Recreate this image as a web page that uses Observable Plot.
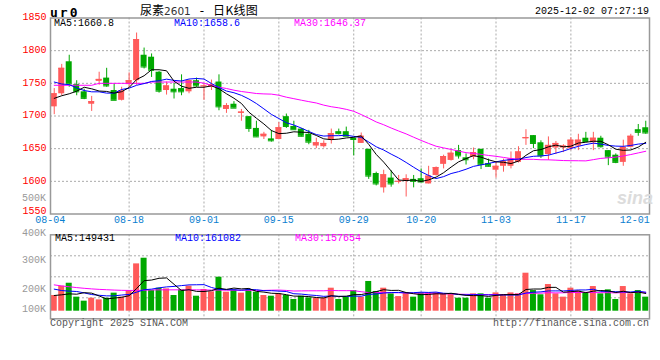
<!DOCTYPE html>
<html><head><meta charset="utf-8">
<script src="https://cdn.jsdelivr.net/npm/d3@7"></script>
<script src="https://cdn.jsdelivr.net/npm/@observablehq/plot@0.6"></script>
<style>
body{margin:0;background:#fff}
#root{position:relative;width:660px;height:360px;overflow:hidden;background:#fff;font-family:"Liberation Mono",monospace;font-size:10px}
.t{position:absolute;white-space:nowrap;line-height:10px}
.w{position:absolute;left:0}
</style></head><body><div id="root"></div>
<script>
// ---- data ----
const dateLabels = ["08-04","08-18","09-01","09-15","09-29","10-20","11-03","11-17","12-01"];
const dateIdx = [0,10,20,30,40,49,59,69,79];
const open  = [1714,1734,1783,1748,1737,1718,1753,1758,1739,1724,1748,1754,1793,1790,1767,1739,1741,1742,1737,1754,1745,1744,1752,1710,1718,1704,1699,1681,1668,1665,1664,1699,1684,1680,1672,1654,1653,1663,1676,1676,1666,1658,1649,1612,1590,1605,1599,1600,1603,1604,1596,1609,1626,1632,1647,1636,1637,1649,1627,1617,1623,1623,1629,1665,1670,1659,1641,1651,1651,1650,1654,1666,1659,1666,1647,1640,1629,1652,1679,1682];
const high  = [1742,1779,1793,1754,1741,1730,1767,1773,1749,1744,1766,1827,1804,1795,1768,1752,1750,1763,1755,1758,1749,1755,1763,1719,1722,1710,1699,1692,1675,1678,1690,1703,1692,1681,1678,1666,1662,1680,1680,1683,1666,1674,1649,1614,1617,1616,1609,1610,1609,1619,1623,1622,1640,1647,1655,1642,1651,1649,1634,1629,1634,1645,1653,1679,1670,1662,1668,1661,1656,1667,1672,1675,1675,1669,1647,1642,1663,1672,1687,1692];
const low   = [1702,1731,1744,1731,1725,1707,1747,1744,1724,1723,1744,1747,1772,1759,1735,1732,1726,1731,1734,1744,1724,1739,1708,1704,1712,1692,1675,1668,1664,1660,1664,1681,1679,1668,1656,1650,1651,1657,1671,1669,1639,1658,1603,1593,1582,1591,1596,1576,1590,1599,1596,1608,1619,1631,1634,1625,1633,1618,1622,1605,1614,1619,1628,1655,1650,1635,1632,1641,1644,1647,1647,1660,1647,1651,1624,1627,1623,1651,1669,1672];
const close = [1734,1773,1749,1737,1727,1722,1756,1746,1724,1738,1754,1817,1775,1770,1738,1746,1737,1737,1754,1746,1746,1748,1714,1716,1712,1706,1681,1668,1672,1662,1682,1684,1679,1669,1660,1659,1658,1673,1673,1669,1664,1669,1608,1596,1610,1596,1600,1604,1600,1599,1608,1621,1638,1643,1639,1633,1644,1626,1623,1623,1630,1634,1645,1667,1658,1639,1655,1658,1654,1663,1663,1661,1666,1653,1637,1629,1652,1669,1675,1674];
const ma5  = [1727,1731,1734,1738,1744.0,1741.6,1738.2,1737.6,1735.0,1737.2,1743.6,1755.8,1761.6,1770.8,1770.8,1769.2,1753.2,1745.6,1742.4,1744.0,1744.0,1746.2,1741.6,1734.0,1727.2,1719.2,1705.8,1696.6,1687.8,1677.8,1673.0,1673.6,1675.8,1675.2,1674.8,1670.2,1665.0,1663.8,1664.6,1666.4,1667.4,1669.6,1656.6,1641.2,1629.4,1615.8,1602.0,1601.2,1602.0,1599.8,1602.2,1606.4,1613.2,1621.8,1629.8,1634.8,1639.4,1637.0,1633.0,1629.8,1629.2,1627.2,1631.0,1639.8,1646.8,1648.6,1652.8,1655.4,1652.8,1653.8,1658.6,1659.8,1661.4,1661.2,1656.0,1649.2,1647.4,1648.0,1652.4,1659.8];
const ma10 = [1752,1749,1748,1743,1739,1737,1737,1735,1735,1740.6,1742.6,1747.0,1749.6,1752.9,1754.0,1756.4,1754.5,1753.6,1756.6,1757.4,1756.6,1749.7,1743.6,1738.2,1735.6,1731.6,1726.0,1719.1,1710.9,1702.5,1696.1,1689.7,1686.2,1681.5,1676.3,1671.6,1669.3,1669.8,1669.9,1670.6,1668.8,1667.3,1660.2,1652.9,1647.9,1641.6,1635.8,1628.9,1621.6,1614.6,1609.0,1604.2,1607.2,1611.9,1614.8,1618.5,1622.9,1625.1,1627.4,1629.8,1632.0,1633.3,1634.0,1636.4,1638.3,1638.9,1640.0,1643.2,1646.3,1650.3,1653.6,1656.3,1658.4,1657.0,1654.9,1653.9,1653.6,1654.9,1657.0,1658.1];
const ma30 = [1747,1747,1747,1747,1747,1747,1750,1750,1750,1750,1750,1750,1750,1752,1752,1752,1752,1752,1752,1752,1750.2,1746.7,1744.1,1742.1,1739.5,1737.5,1736.0,1734.4,1733.8,1733.5,1731.8,1728.8,1726.5,1724.2,1722.0,1719.9,1716.6,1714.2,1712.5,1710.2,1707.2,1702.2,1696.7,1690.9,1686.6,1681.6,1677.0,1672.6,1667.5,1662.6,1658.0,1653.7,1651.2,1648.8,1646.3,1643.9,1642.7,1641.3,1639.6,1638.3,1636.6,1634.9,1633.8,1633.7,1633.7,1633.0,1632.9,1632.4,1631.8,1631.6,1631.5,1631.3,1633.2,1635.1,1636.0,1637.1,1638.8,1641.0,1643.5,1646.0];
const volumeK = [133,212,237,119,85,110,96,110,153,119,175,401,449,175,195,189,133,181,212,127,184,164,288,161,181,153,184,161,133,127,147,133,99,127,113,110,110,195,99,119,175,119,252,167,195,147,124,155,119,155,155,155,147,147,110,110,147,147,110,155,139,155,147,322,175,139,226,147,119,195,170,155,209,147,181,99,209,147,175,119];
const volMa5K  = [133,139,147,144,157,153,129,104,111,118,131,192,259,264,279,282,228,175,182,168,167,174,195,185,196,189,193,168,162,152,150,140,128,127,124,116,112,131,125,127,140,141,153,166,182,176,177,158,148,140,142,148,146,152,143,134,132,132,125,134,140,141,141,184,188,188,202,202,161,165,171,157,170,175,172,158,169,157,162,150];
const volMa10K = [187,175,170,167,155,141,135,130,130,137,142,161,182,187,198,206,210,217,223,224,225,201,185,183,182,178,184,182,174,174,170,167,148,145,138,133,126,129,126,125,128,127,142,146,154,158,159,155,157,161,159,162,152,150,141,138,140,139,138,138,137,137,137,154,161,164,172,172,172,176,180,180,186,168,169,165,163,163,169,161];
const volMa30K = [223,214,207,200,194,189,185,182,179,177,176,176,178,180,181,181,181,181,181,181,180,179,179,178,178,177,177,176,176,178,179,176,171,172,173,173,173,176,174,174,174,165,158,158,158,157,156,155,152,153,152,152,147,147,144,143,142,141,141,141,141,142,144,150,152,153,157,155,156,159,158,160,158,157,157,155,158,158,160,159];
const priceTicks = [1850,1800,1750,1700,1650,1600,1550];
const volTickLabels = ["500K","400K","300K","200K","100K"];
const header = {code:"ur0", name:"尿素", contract:"2601", dash:"-", kind:"日K线图", time:"2025-12-02 07:27:19"};
const priceMaLabels = ["MA5:1660.8","MA10:1658.6","MA30:1646.37"];
const volMaLabels = ["MA5:149431","MA10:161082","MA30:157654"];
const footer = ["Copyright 2025 SINA.COM","http://finance.sina.com.cn"];

// ---- build ----
const UP = "#ff5a5a", DOWN = "#00a800";
const candles = open.map((o,i)=>({i, o, h:high[i], l:low[i], c:close[i], v:volumeK[i]*1000, col: close[i] >= o ? UP : DOWN}));
const rows = (arr, k=1) => arr.map((v,i)=>({i, v:v*k}));
const W = 0.4;
const font = {fontFamily:"Liberation Mono, monospace", fontSize:"10px", background:"transparent", overflow:"visible"};
const grid = {stroke:"#aaa", strokeDasharray:"2,2", strokeWidth:1};
const xColor = "#0a80d0";
const lastK = dateLabels.length - 1;
const yAxisStyle = {tickSize:0, tickPadding:4, color:"#ff0000", fontSize:10, tickFormat:d=>String(d)};
const DY = 9;

const price = Plot.plot({
  width:660, height:230, marginLeft:50, marginRight:11, marginTop:17.5, marginBottom:16.5,
  x:{domain:[-0.5,79.5], axis:null},
  y:{domain:[1550,1850]},
  color:{type:"identity"},
  style:font,
  marks:[
    Plot.ruleY(priceTicks.slice(1,-1), grid),
    Plot.ruleX(dateIdx.slice(1,-1), grid),
    Plot.ruleX(candles, {x:"i", y1:"l", y2:"h", stroke:"col", strokeWidth:1}),
    Plot.rect(candles, {x1:d=>d.i-W, x2:d=>d.i+W, y1:"o", y2:"c", fill:"col"}),
    Plot.ruleY(candles, {x1:d=>d.i-W, x2:d=>d.i+W, y:"c", stroke:"col", strokeWidth:1}),
    Plot.line(rows(ma30), {x:"i", y:"v", stroke:"#ff00ff", strokeWidth:1}),
    Plot.line(rows(ma10), {x:"i", y:"v", stroke:"#0000ff", strokeWidth:1}),
    Plot.line(rows(ma5), {x:"i", y:"v", stroke:"#000000", strokeWidth:1}),
    Plot.axisY(priceTicks.slice(0,-1), {...yAxisStyle, dy:-1}),
    Plot.axisY(priceTicks.slice(-1), {...yAxisStyle, dy:-3.6}),
    Plot.text(dateIdx.slice(0,1), {x:d=>d, text:()=>dateLabels[0], frameAnchor:"bottom", dy:DY, dx:-4, fill:xColor}),
    Plot.text(dateIdx.slice(1,-1), {x:d=>d, text:(d,i)=>dateLabels[i+1], frameAnchor:"bottom", dy:DY, fill:xColor}),
    Plot.text(dateIdx.slice(-1), {x:d=>d, text:()=>dateLabels[lastK], frameAnchor:"bottom", dy:DY, dx:4, textAnchor:"end", fill:xColor}),
    Plot.frame({stroke:"#999", strokeWidth:1.5})
  ]
});

const vDomain = [0,600000], vRange = [80.7, 80.7-0.118*600];
const vy = Plot.scale({y:{domain:vDomain, range:vRange}});
const vGrid = [0.25,0.5,0.75].map(f => vy.invert(4.3 + f*84));
const vol = Plot.plot({
  width:660, height:100, marginLeft:50, marginRight:11, marginTop:4.3, marginBottom:11.7,
  x:{domain:[-0.5,79.5], axis:null},
  y:{domain:vDomain, range:vRange, axis:null},
  color:{type:"identity"},
  style:font,
  marks:[
    Plot.ruleY(vGrid, grid),
    Plot.ruleX(dateIdx.slice(1,-1), grid),
    Plot.rect(candles, {x1:d=>d.i-W, x2:d=>d.i+W, y1:0, y2:"v", fill:"col"}),
    Plot.line(rows(volMa30K,1000), {x:"i", y:"v", stroke:"#ff00ff", strokeWidth:1}),
    Plot.line(rows(volMa10K,1000), {x:"i", y:"v", stroke:"#0000ff", strokeWidth:1}),
    Plot.line(rows(volMa5K,1000), {x:"i", y:"v", stroke:"#000000", strokeWidth:1}),
    Plot.frame({stroke:"#999", strokeWidth:1.5})
  ]
});

const root = document.getElementById("root");
function wrap(node, top){ const d=document.createElement("div"); d.className="w"; d.style.top=top+"px"; d.appendChild(node); root.appendChild(d); }
wrap(price, 0);
wrap(vol, 230);

function txt(s, x, cy, css={}, anchor="start"){
  const d=document.createElement("div"); d.className="t"; d.textContent=s;
  Object.assign(d.style, css);
  const lh = parseFloat(css.lineHeight || 10);
  d.style.top = (cy - lh/2) + "px";
  if (anchor==="end") { d.style.right = (660 - x) + "px"; } else d.style.left = x + "px";
  root.appendChild(d); return d;
}
// header
txt(header.code, 50, 12, {fontFamily:"DejaVu Sans Mono", fontWeight:"bold", fontSize:"13px", lineHeight:"13px", letterSpacing:"2px", color:"#000"});
const title = document.createElement("div");
title.className="t";
title.style.cssText = "left:140px;top:3px;line-height:14px;font-family:'Noto Sans CJK SC';font-size:12px;color:#000";
const s1 = document.createElement("span"); s1.textContent = header.name;
const s2 = document.createElement("span"); s2.textContent = header.contract;
s2.style.cssText = "font-family:'DejaVu Sans';font-size:10.5px;color:#333";
const s3 = document.createElement("span"); s3.textContent = header.dash;
s3.style.cssText = "font-family:'DejaVu Sans';font-size:12px;margin:0 9px 0 9px";
const s4 = document.createElement("span"); s4.textContent = header.kind;
s4.style.cssText = "letter-spacing:0.3px";
title.append(s1, s2, s3, s4);
root.appendChild(title);
txt(header.time, 649, 12, {color:"#000"}, "end");
// MA labels
const maColors = ["#000","#0000ff","#ff00ff"], maX = [54,174,294];
priceMaLabels.forEach((s,k)=>txt(s, maX[k], 24, {color:maColors[k]}));
volMaLabels.forEach((s,k)=>txt(s, maX[k]+1, 238.5, {color:maColors[k]}));
// volume axis labels (placed as the source draws them)
const volLabelY = [198.8,233.8,261,290,310];
volTickLabels.forEach((s,k)=>txt(s, 46, volLabelY[k], {color:"#999"}, "end"));
// footer
txt(footer[0], 50, 323.5, {color:"#555"});
txt(footer[1], 649, 323.5, {color:"#555"}, "end");
// watermark
txt("sina", 617, 198, {fontFamily:"Liberation Sans", fontStyle:"italic", fontWeight:"bold", fontSize:"18px", lineHeight:"18px", color:"#dcdcdc"});
</script></body></html>
